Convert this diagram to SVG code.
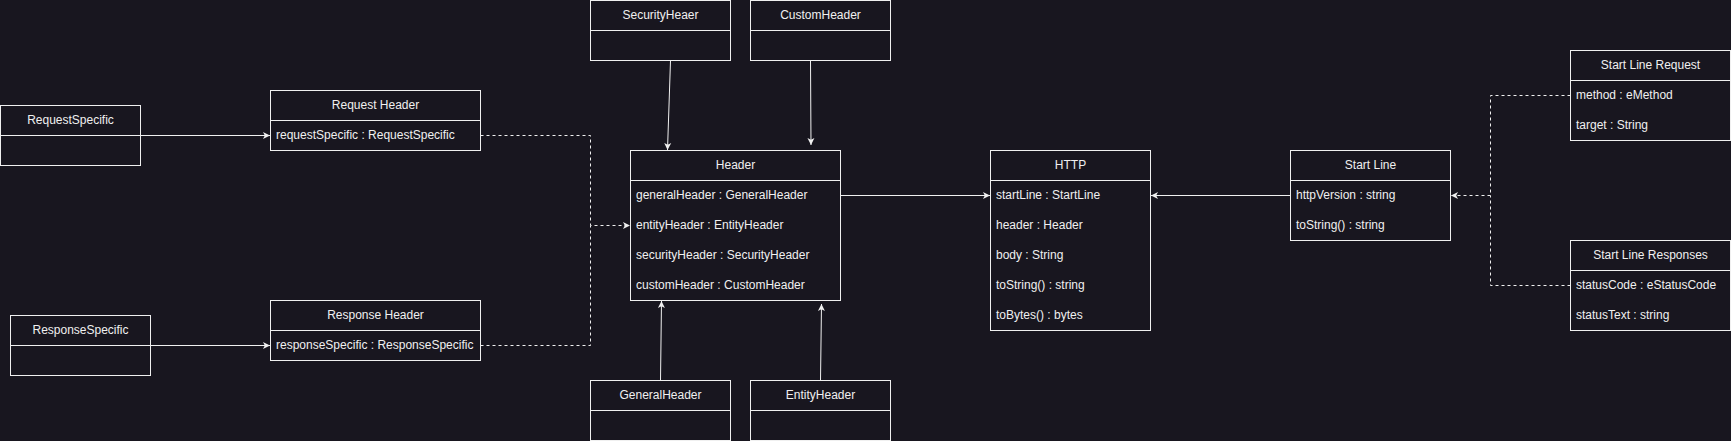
<svg xmlns="http://www.w3.org/2000/svg" width="1731" height="441" viewBox="0 0 1731 441">
<style>
.bg{fill:#18161f}
.box{fill:none;stroke:#f0f0f0;stroke-width:1}
.div{stroke:#f0f0f0;stroke-width:1}
.t{font-family:"Liberation Sans",Arial,sans-serif;font-size:12px;fill:#f0f0f0}
.c{text-anchor:middle}
.edge{fill:none;stroke:#f0f0f0;stroke-width:1}
.dash{stroke-dasharray:3 3}
</style>
<defs>
<marker id="arr" markerUnits="userSpaceOnUse" markerWidth="9" markerHeight="9" viewBox="0 0 9 9" refX="8" refY="4.5" orient="auto">
<path d="M1,1 L8,4.5 L1,8 L2.8,4.5 Z" fill="#f0f0f0" stroke="none"/>
</marker>
</defs>
<rect class="bg" x="0" y="0" width="1731" height="441"/>

<g id="connectors">
<path class="edge" d="M140.5,135.5 H270" marker-end="url(#arr)"/>
<path class="edge" d="M150.5,345.5 H270" marker-end="url(#arr)"/>
<path class="edge dash" d="M480.5,135.5 H590.5 V225.5 H630" marker-end="url(#arr)"/>
<path class="edge dash" d="M480.5,345.5 H590.5 V225.5"/>
<path class="edge" d="M670.5,60.5 L667.5,150" marker-end="url(#arr)"/>
<path class="edge" d="M810.5,60.5 L811,145" marker-end="url(#arr)"/>
<path class="edge" d="M660.5,380.5 L661.5,301" marker-end="url(#arr)"/>
<path class="edge" d="M820.5,380.5 L821.5,304" marker-end="url(#arr)"/>
<path class="edge" d="M840.5,195.5 H990" marker-end="url(#arr)"/>
<path class="edge" d="M1290.5,195.5 H1151" marker-end="url(#arr)"/>
<path class="edge dash" d="M1570.5,95.5 H1490.5 V195.5 H1451" marker-end="url(#arr)"/>
<path class="edge dash" d="M1570.5,285.5 H1490.5 V195.5"/>
</g>

<g id="RequestSpecific">
<rect class="box" x="0.5" y="105.5" width="140" height="60"/>
<line class="div" x1="0.5" y1="135.5" x2="140.5" y2="135.5"/>
<text class="t c" x="70.5" y="123.5">RequestSpecific</text>
</g>

<g id="RequestHeader">
<rect class="box" x="270.5" y="90.5" width="210" height="60"/>
<line class="div" x1="270.5" y1="120.5" x2="480.5" y2="120.5"/>
<text class="t c" x="375.5" y="108.5">Request Header</text>
<text class="t" x="276" y="138.5">requestSpecific : RequestSpecific</text>
</g>

<g id="ResponseSpecific">
<rect class="box" x="10.5" y="315.5" width="140" height="60"/>
<line class="div" x1="10.5" y1="345.5" x2="150.5" y2="345.5"/>
<text class="t c" x="80.5" y="333.5">ResponseSpecific</text>
</g>

<g id="ResponseHeader">
<rect class="box" x="270.5" y="300.5" width="210" height="60"/>
<line class="div" x1="270.5" y1="330.5" x2="480.5" y2="330.5"/>
<text class="t c" x="375.5" y="318.5">Response Header</text>
<text class="t" x="276" y="348.5">responseSpecific : ResponseSpecific</text>
</g>

<g id="SecurityHeaer">
<rect class="box" x="590.5" y="0.5" width="140" height="60"/>
<line class="div" x1="590.5" y1="30.5" x2="730.5" y2="30.5"/>
<text class="t c" x="660.5" y="18.5">SecurityHeaer</text>
</g>

<g id="CustomHeader">
<rect class="box" x="750.5" y="0.5" width="140" height="60"/>
<line class="div" x1="750.5" y1="30.5" x2="890.5" y2="30.5"/>
<text class="t c" x="820.5" y="18.5">CustomHeader</text>
</g>

<g id="Header">
<rect class="box" x="630.5" y="150.5" width="210" height="150"/>
<line class="div" x1="630.5" y1="180.5" x2="840.5" y2="180.5"/>
<text class="t c" x="735.5" y="168.5">Header</text>
<text class="t" x="636" y="198.5">generalHeader : GeneralHeader</text>
<text class="t" x="636" y="228.5">entityHeader : EntityHeader</text>
<text class="t" x="636" y="258.5">securityHeader : SecurityHeader</text>
<text class="t" x="636" y="288.5">customHeader : CustomHeader</text>
</g>

<g id="GeneralHeader">
<rect class="box" x="590.5" y="380.5" width="140" height="60"/>
<line class="div" x1="590.5" y1="410.5" x2="730.5" y2="410.5"/>
<text class="t c" x="660.5" y="398.5">GeneralHeader</text>
</g>

<g id="EntityHeader">
<rect class="box" x="750.5" y="380.5" width="140" height="60"/>
<line class="div" x1="750.5" y1="410.5" x2="890.5" y2="410.5"/>
<text class="t c" x="820.5" y="398.5">EntityHeader</text>
</g>

<g id="HTTP">
<rect class="box" x="990.5" y="150.5" width="160" height="180"/>
<line class="div" x1="990.5" y1="180.5" x2="1150.5" y2="180.5"/>
<text class="t c" x="1070.5" y="168.5">HTTP</text>
<text class="t" x="996" y="198.5">startLine : StartLine</text>
<text class="t" x="996" y="228.5">header : Header</text>
<text class="t" x="996" y="258.5">body : String</text>
<text class="t" x="996" y="288.5">toString() : string</text>
<text class="t" x="996" y="318.5">toBytes() : bytes</text>
</g>

<g id="StartLine">
<rect class="box" x="1290.5" y="150.5" width="160" height="90"/>
<line class="div" x1="1290.5" y1="180.5" x2="1450.5" y2="180.5"/>
<text class="t c" x="1370.5" y="168.5">Start Line</text>
<text class="t" x="1296" y="198.5">httpVersion : string</text>
<text class="t" x="1296" y="228.5">toString() : string</text>
</g>

<g id="StartLineRequest">
<rect class="box" x="1570.5" y="50.5" width="160" height="90"/>
<line class="div" x1="1570.5" y1="80.5" x2="1730.5" y2="80.5"/>
<text class="t c" x="1650.5" y="68.5">Start Line Request</text>
<text class="t" x="1576" y="98.5">method : eMethod</text>
<text class="t" x="1576" y="128.5">target : String</text>
</g>

<g id="StartLineResponses">
<rect class="box" x="1570.5" y="240.5" width="160" height="90"/>
<line class="div" x1="1570.5" y1="270.5" x2="1730.5" y2="270.5"/>
<text class="t c" x="1650.5" y="258.5">Start Line Responses</text>
<text class="t" x="1576" y="288.5">statusCode : eStatusCode</text>
<text class="t" x="1576" y="318.5">statusText : string</text>
</g>
</svg>
